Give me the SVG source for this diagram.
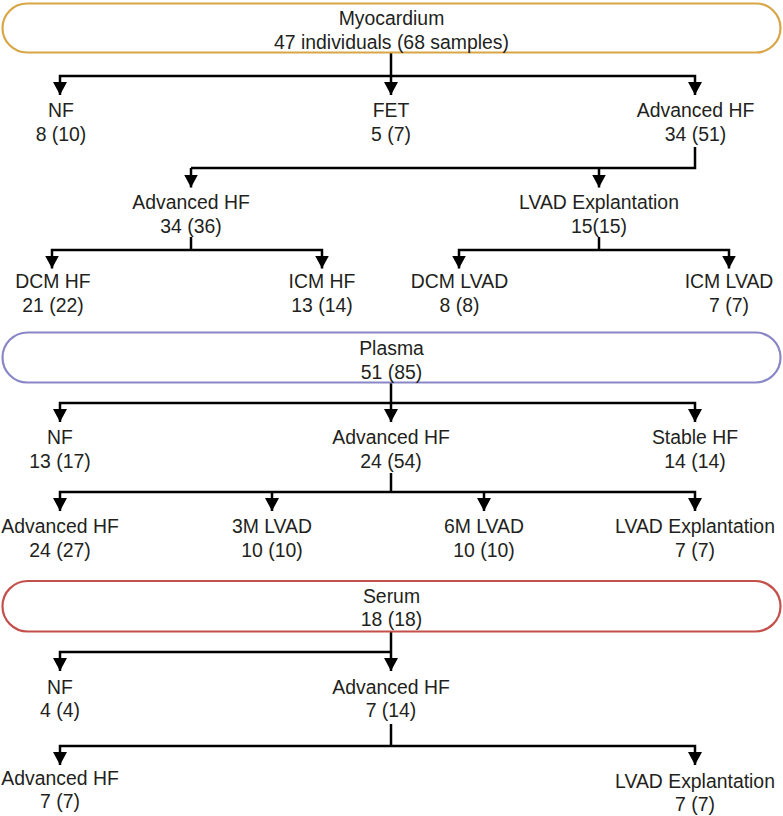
<svg xmlns="http://www.w3.org/2000/svg" width="783" height="816" viewBox="0 0 783 816">
<style>
text{font-family:"Liberation Sans",Arial,Helvetica,sans-serif;font-size:19.4px;fill:#231f20;text-anchor:middle}
.pill{fill:#fff;stroke-width:2.2}
.c{fill:none;stroke:#000;stroke-width:2.5}
.a{marker-end:url(#ah)}
.b{marker-start:url(#ah);marker-end:url(#ah)}
</style>
<defs>
<marker id="ah" markerUnits="userSpaceOnUse" markerWidth="14" markerHeight="14" refX="12" refY="6.5" orient="auto-start-reverse" viewBox="0 0 13 13">
<path d="M0,0 L12,6.5 L0,13 Z" fill="#000"/>
</marker>
</defs>
<rect width="783" height="816" fill="#fff"/>
<g id="connectors">
<path class="c a" d="M391,53 V95"/>
<path class="c b" d="M60,95 V76 H695 V95"/>
<path class="c" d="M695,147 V168 H191"/>
<path class="c a" d="M191,168 V187.5"/>
<path class="c a" d="M599,168 V187.5"/>
<path class="c" d="M191,237 V250"/>
<path class="c b" d="M52,268.5 V250 H322 V268.5"/>
<path class="c" d="M599,237 V250"/>
<path class="c b" d="M459,268.5 V250 H729 V268.5"/>
<path class="c a" d="M391,383 V422"/>
<path class="c b" d="M60,422 V403 H695 V422"/>
<path class="c" d="M391,473 V492"/>
<path class="c b" d="M60,511 V492 H695 V511"/>
<path class="c a" d="M272,492 V511"/>
<path class="c a" d="M484,492 V511"/>
<path class="c a" d="M391,631 V671"/>
<path class="c a" d="M391,652 H60 V671"/>
<path class="c" d="M391,724 V746"/>
<path class="c b" d="M60,765 V746 H695 V765"/>
</g>
<g id="myocardium">
<rect class="pill" x="2.5" y="3.5" width="778" height="49" rx="24.5" stroke="#d8a646"/>
<text x="391.5" y="24.5">Myocardium</text>
<text x="391.5" y="48.5">47 individuals (68 samples)</text>
</g>
<g id="m-nf"><text x="61" y="117">NF</text><text x="61" y="141">8 (10)</text></g>
<g id="m-fet"><text x="391" y="117">FET</text><text x="391" y="141">5 (7)</text></g>
<g id="m-advhf"><text x="695.5" y="117">Advanced HF</text><text x="695.5" y="141">34 (51)</text></g>
<g id="m-advhf2"><text x="191" y="208.5">Advanced HF</text><text x="191" y="232.5">34 (36)</text></g>
<g id="m-lvadex"><text x="599" y="208.5">LVAD Explantation</text><text x="599" y="232.5">15(15)</text></g>
<g id="m-dcmhf"><text x="53" y="288">DCM HF</text><text x="53" y="312">21 (22)</text></g>
<g id="m-icmhf"><text x="322" y="288">ICM HF</text><text x="322" y="312">13 (14)</text></g>
<g id="m-dcmlvad"><text x="459.5" y="288">DCM LVAD</text><text x="459.5" y="312">8 (8)</text></g>
<g id="m-icmlvad"><text x="729" y="288">ICM LVAD</text><text x="729" y="312">7 (7)</text></g>
<g id="plasma">
<rect class="pill" x="2.5" y="332.5" width="778" height="50" rx="25" stroke="#8a87c6"/>
<text x="391.5" y="354.5">Plasma</text>
<text x="391.5" y="378.5">51 (85)</text>
</g>
<g id="p-nf"><text x="60" y="444">NF</text><text x="60" y="468">13 (17)</text></g>
<g id="p-advhf"><text x="391" y="444">Advanced HF</text><text x="391" y="468">24 (54)</text></g>
<g id="p-stable"><text x="695" y="444">Stable HF</text><text x="695" y="468">14 (14)</text></g>
<g id="p-advhf2"><text x="60" y="533">Advanced HF</text><text x="60" y="557">24 (27)</text></g>
<g id="p-3m"><text x="272" y="533">3M LVAD</text><text x="272" y="557">10 (10)</text></g>
<g id="p-6m"><text x="484" y="533">6M LVAD</text><text x="484" y="557">10 (10)</text></g>
<g id="p-lvadex"><text x="695" y="533">LVAD Explantation</text><text x="695" y="557">7 (7)</text></g>
<g id="serum">
<rect class="pill" x="2.5" y="581" width="778" height="50.5" rx="25.25" stroke="#c4504b"/>
<text x="391.5" y="602.5">Serum</text>
<text x="391.5" y="626">18 (18)</text>
</g>
<g id="s-nf"><text x="60" y="694">NF</text><text x="60" y="717">4 (4)</text></g>
<g id="s-advhf"><text x="391" y="694">Advanced HF</text><text x="391" y="717">7 (14)</text></g>
<g id="s-advhf2"><text x="60" y="785">Advanced HF</text><text x="60" y="808">7 (7)</text></g>
<g id="s-lvadex"><text x="695" y="788">LVAD Explantation</text><text x="695" y="811">7 (7)</text></g>
</svg>
